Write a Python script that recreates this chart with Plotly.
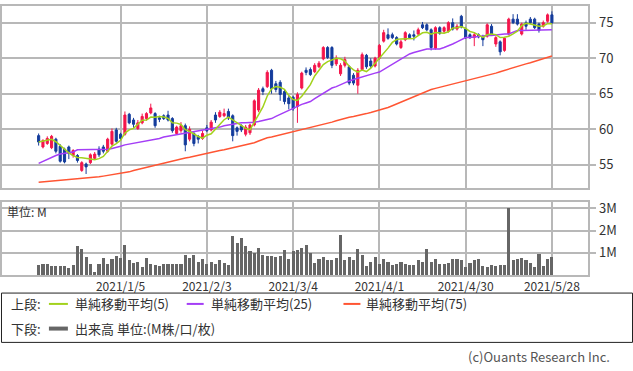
import plotly.graph_objects as go
import pandas as pd

W, H = 633, 371

tick_idx = [19, 39, 59, 79, 99, 119]
tick_labels = ["2021/1/5", "2021/2/3", "2021/3/4", "2021/4/1", "2021/4/30", "2021/5/28"]

opens = [59.1,57.5,58.0,57.4,58.6,57.6,57.2,57.5,56.3,56.3,
         54.2,55.1,55.3,55.9,57.2,57.5,56.9,57.9,59.9,59.3,
         59.3,62.1,61.3,60.1,60.9,61.5,62.3,62.2,61.6,61.9,
         62.0,61.5,59.4,59.8,60.5,58.6,59.4,59.0,58.7,60.2,
         59.9,62.0,61.8,61.9,62.5,61.9,60.2,60.5,59.3,59.5,
         60.6,62.7,65.7,66.0,68.3,66.4,66.6,65.3,64.4,64.5,
         63.2,65.8,68.3,68.4,68.1,68.8,69.9,71.5,71.5,69.2,
         67.8,69.0,68.8,67.6,66.2,68.4,70.4,69.6,68.9,70.0,
         72.4,73.3,73.3,72.9,71.5,72.6,73.3,73.3,73.4,74.7,
         74.7,74.0,71.4,74.3,73.8,73.8,75.0,74.1,75.9,74.1,
         73.3,72.9,73.3,73.0,73.1,74.5,72.0,72.3,71.1,73.4,
         75.5,75.5,73.4,75.0,75.5,75.5,74.8,74.5,75.2,76.1]
highs = [59.4,58.6,59.0,59.2,58.8,57.9,57.4,57.7,57.2,56.5,
         55.5,55.3,56.6,56.8,57.6,57.8,58.8,60.1,60.2,59.5,
         62.5,62.3,61.6,61.3,62.2,62.4,63.6,62.4,61.9,62.1,
         62.6,61.7,60.5,61.0,60.8,60.4,59.6,59.2,59.8,60.6,
         61.3,62.4,62.7,62.9,62.9,62.1,60.4,60.7,60.6,60.8,
         64.2,65.8,66.0,68.3,68.5,66.8,66.9,65.6,64.7,64.7,
         65.2,68.1,68.7,68.7,69.3,69.6,71.7,71.7,71.7,70.4,
         69.3,70.2,69.0,67.9,68.6,70.8,70.6,70.0,70.2,72.0,
         74.0,74.2,73.6,73.1,72.6,73.8,73.5,73.9,74.3,75.1,
         74.9,74.2,74.5,74.5,74.5,75.2,75.6,74.8,76.1,74.3,
         73.5,73.6,73.5,73.3,74.9,74.8,73.1,72.5,73.0,75.7,
         76.2,76.2,75.0,75.3,75.8,75.7,75.0,75.3,76.3,76.6]
lows = [57.7,57.3,57.8,57.2,56.6,55.3,55.2,55.8,56.0,55.3,
        54.0,53.7,55.1,55.7,56.1,56.6,56.7,57.7,58.1,58.4,
        59.1,60.7,60.2,59.9,60.7,61.2,62.1,60.2,61.0,61.3,
        61.1,59.5,59.2,59.5,56.9,58.3,57.6,58.0,58.5,59.6,
        59.7,60.9,61.6,61.7,61.3,58.3,59.1,59.6,59.0,59.2,
        60.4,62.4,64.8,65.8,65.0,65.2,64.0,63.5,62.8,62.6,
        60.9,65.6,67.6,67.5,67.9,68.6,69.7,69.9,68.6,68.9,
        67.5,68.7,66.2,66.2,65.0,68.2,68.5,68.6,68.7,69.8,
        72.2,72.6,72.7,71.8,71.3,72.4,72.7,72.5,73.2,74.1,
        73.8,71.1,71.2,73.3,73.5,73.6,73.9,73.9,74.2,72.7,
        72.7,71.7,72.8,71.7,72.9,73.2,71.6,70.4,70.9,73.2,
        74.8,74.6,73.2,74.0,74.8,74.1,73.6,74.3,75.0,74.8]
closes = [58.2,58.4,58.7,59.0,56.9,55.5,55.4,56.6,57.0,55.6,
          55.3,54.7,56.4,56.5,56.4,56.9,58.6,59.7,58.3,58.7,
          62.0,60.9,60.7,60.9,61.8,62.2,63.0,60.5,61.4,61.5,
          61.3,59.8,60.3,60.5,57.8,60.0,58.0,58.6,59.4,59.8,
          61.0,61.3,62.4,62.2,61.6,59.1,59.7,59.9,60.3,60.6,
          64.0,65.5,65.3,68.0,65.7,65.6,64.9,63.9,63.6,62.9,
          64.9,67.9,68.0,67.7,69.0,69.3,71.5,70.1,69.0,70.0,
          69.0,69.8,66.5,66.5,68.3,70.5,68.8,68.9,70.0,71.8,
          73.6,72.8,72.9,72.0,72.3,73.6,72.9,73.1,74.0,74.3,
          74.0,71.5,74.3,73.5,74.3,75.0,74.1,74.5,74.4,72.9,
          72.9,73.3,73.0,72.6,74.7,73.4,72.9,70.9,72.8,75.5,
          75.0,74.8,74.8,74.5,75.0,74.3,73.9,75.0,76.1,75.0]
ma25 = [55.2,55.5,55.8,56.1,56.3,56.5,56.6,56.7,56.8,57.1,
        57.1,57.1,57.1,57.1,57.1,57.2,57.2,57.3,57.4,57.6,
        57.8,57.9,58.0,58.1,58.2,58.3,58.4,58.5,58.7,58.9,
        59.0,59.1,59.2,59.3,59.4,59.5,59.6,59.7,59.8,59.9,
        60.0,60.2,60.3,60.5,60.6,60.8,60.8,60.9,60.9,60.9,
        61.0,61.1,61.2,61.3,61.5,61.8,62.1,62.4,62.7,63.0,
        63.3,63.5,63.7,63.9,64.3,64.7,65.1,65.5,65.8,66.0,
        66.3,66.5,66.8,67.0,67.2,67.4,67.6,67.8,67.9,68.05,
        68.4,68.8,69.2,69.5,69.9,70.2,70.6,70.8,71.0,71.2,
        71.3,71.3,71.3,71.3,71.5,71.7,72.0,72.3,72.6,72.9,
        72.9,73.0,73.0,73.1,73.2,73.2,73.3,73.3,73.4,73.4,
        73.6,73.9,73.9,73.9,74.0,74.0,74.0,74.0,74.0,74.0]
ma75 = [52.55,52.6,52.65,52.7,52.75,52.8,52.85,52.9,52.95,53.0,
        53.05,53.1,53.15,53.2,53.3,53.4,53.5,53.55,53.6,53.7,
        53.85,54.0,54.2,54.35,54.5,54.7,54.85,55.0,55.15,55.3,
        55.4,55.55,55.7,55.85,55.95,56.05,56.2,56.3,56.45,56.6,
        56.75,56.9,57.0,57.1,57.25,57.4,57.5,57.65,57.8,57.9,
        58.1,58.35,58.6,58.8,58.9,59.05,59.2,59.35,59.5,59.6,
        59.75,59.9,60.05,60.2,60.35,60.5,60.65,60.8,61.0,61.2,
        61.4,61.6,61.7,61.8,61.9,62.05,62.2,62.35,62.5,62.65,
        62.85,63.05,63.3,63.55,63.8,64.05,64.3,64.55,64.8,65.1,
        65.4,65.6,65.75,65.9,66.1,66.25,66.4,66.55,66.7,66.85,
        67.0,67.15,67.3,67.45,67.6,67.75,67.9,68.1,68.3,68.5,
        68.65,68.85,69.0,69.2,69.35,69.55,69.75,69.95,70.1,70.3]
volume_m = [0.45,0.47,0.50,0.38,0.38,0.38,0.42,0.32,0.45,1.30,
            1.15,0.80,0.50,0.15,0.50,0.75,0.50,0.70,0.85,0.75,
            1.35,0.65,0.55,0.60,0.35,0.75,0.50,0.45,0.40,0.50,
            0.50,0.50,0.50,0.50,0.90,0.75,0.90,0.60,0.70,0.50,
            0.60,0.50,0.65,0.55,0.45,1.75,1.45,1.65,1.30,1.05,
            1.00,1.20,0.90,0.85,0.85,0.80,0.85,1.10,0.70,1.05,
            1.10,1.20,1.35,1.00,0.55,0.70,0.80,0.65,0.65,0.75,
            1.80,0.65,0.80,0.65,1.15,0.90,0.40,0.60,0.80,0.50,
            0.70,0.60,0.45,0.50,0.60,0.50,0.45,0.45,0.65,0.60,
            1.15,0.60,0.70,0.50,0.50,0.55,0.70,0.70,0.65,0.35,
            0.55,0.65,0.70,0.40,0.35,0.45,0.40,0.45,0.45,3.00,
            0.65,0.70,0.75,0.65,0.55,0.35,0.95,0.40,0.70,0.80]

x = list(range(len(closes)))
ma5 = pd.Series(closes).rolling(5, min_periods=1).mean().tolist()

UP, DOWN = "#f4154b", "#143c9c"
C5, C25, C75 = "#a2d21c", "#a43ef6", "#ff5533"
GRID = "#b8b8b8"
FONT = "Noto Sans CJK JP"
TXT = "#333333"

def px_x(X):
    return X / W

def px_y(Y):
    return 1 - Y / H

fig = go.Figure()
fig.add_trace(go.Candlestick(
    x=x, open=opens, high=highs, low=lows, close=closes,
    increasing=dict(line=dict(color=UP, width=1), fillcolor=UP),
    decreasing=dict(line=dict(color=DOWN, width=1), fillcolor=DOWN),
    whiskerwidth=0, xaxis="x", yaxis="y", showlegend=False, hoverinfo="skip"))
fig.add_trace(go.Scatter(x=x, y=ma75, mode="lines", line=dict(color=C75, width=1.5),
                         xaxis="x", yaxis="y", showlegend=False, hoverinfo="skip"))
fig.add_trace(go.Scatter(x=x, y=ma25, mode="lines", line=dict(color=C25, width=1.5),
                         xaxis="x", yaxis="y", showlegend=False, hoverinfo="skip"))
fig.add_trace(go.Scatter(x=x, y=ma5, mode="lines", line=dict(color=C5, width=1.5),
                         xaxis="x", yaxis="y", showlegend=False, hoverinfo="skip"))
fig.add_trace(go.Bar(x=x, y=volume_m, marker=dict(color="#666666", line=dict(width=0)),
                     width=0.72, xaxis="x2", yaxis="y2", showlegend=False, hoverinfo="skip"))

xdom = [px_x(1), px_x(587.5)]
xr = [(1 - 37.7) / 4.32, (587.5 - 37.7) / 4.32]

axis_common = dict(showline=True, mirror=True, linecolor=GRID, linewidth=1.5,
                   showgrid=True, gridcolor=GRID, gridwidth=1.5, zeroline=False)

fig.update_layout(
    width=W, height=H, autosize=False,
    margin=dict(l=0, r=0, t=0, b=0),
    paper_bgcolor="white", plot_bgcolor="white",
    font=dict(family=FONT, color=TXT, size=12),
    bargap=0,
    xaxis=dict(domain=xdom, range=xr, anchor="y", tickvals=tick_idx, ticktext=tick_labels,
               showticklabels=False, ticks="", rangeslider=dict(visible=False), **axis_common),
    yaxis=dict(domain=[px_y(185.7), px_y(1)], range=[51.7, 77.35], side="right",
               tickvals=[55, 60, 65, 70, 75], ticks="outside", ticklen=7, tickcolor=GRID,
               tickwidth=1.5, tickfont=dict(size=13, color=TXT), anchor="x", **axis_common),
    xaxis2=dict(domain=xdom, range=xr, anchor="y2", matches="x", tickvals=tick_idx,
                ticktext=tick_labels, ticks="", tickfont=dict(size=12, color=TXT), **axis_common),
    yaxis2=dict(domain=[px_y(274), px_y(200)], range=[0, 3.26], side="right",
                tickvals=[1, 2, 3], ticktext=["1M", "2M", "3M"], ticks="outside", ticklen=7,
                tickcolor=GRID, tickwidth=1.5, tickfont=dict(size=13, color=TXT),
                anchor="x2", **axis_common),
)

ann = []
def text(X, Y, s, anchor="left", size=13, color=TXT):
    ann.append(dict(x=px_x(X), y=px_y(Y), xref="paper", yref="paper", text=s, showarrow=False,
                    xanchor=anchor, yanchor="middle", font=dict(size=size, color=color, family=FONT)))

ROW1 = 303
text(4, 209, "単位: M", size=12)
text(8, ROW1, "上段:")
text(72, ROW1, "単純移動平均(5)")
text(208, ROW1, "単純移動平均(25)")
text(364, ROW1, "単純移動平均(75)")
text(8, 328, "下段:")
text(72, 328, "出来高 単位:(M株/口/枚)")
text(612, 356, "(c)Ouants Research Inc.", anchor="right", color="#555555")

shapes = [
    dict(type="rect", xref="paper", yref="paper", x0=px_x(0.5), x1=px_x(632.5),
         y0=px_y(292), y1=px_y(342), line=dict(color="#222222", width=1)),
]
for (x0, x1, col, w) in [(48, 67, C5, 2), (186, 203, C25, 2), (343, 360, C75, 2), (48, 67, "#666666", 4)]:
    Y = 328 if col == "#666666" else ROW1
    shapes.append(dict(type="line", xref="paper", yref="paper", x0=px_x(x0), x1=px_x(x1),
                       y0=px_y(Y), y1=px_y(Y), line=dict(color=col, width=w)))

fig.update_layout(annotations=ann, shapes=shapes)
fig.write_html("out.html", config={"displayModeBar": False},
               post_script="document.body.style.margin='0';document.body.style.padding='0';"
                           "document.body.style.overflow='hidden';")
